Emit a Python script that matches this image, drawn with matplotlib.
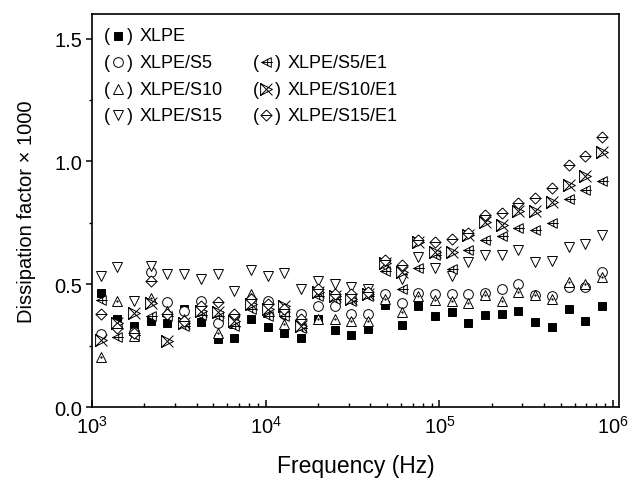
import numpy as np
import matplotlib
matplotlib.use("Agg")
import matplotlib.pyplot as plt
from matplotlib.path import Path
from matplotlib.ticker import MultipleLocator, FormatStrFormatter, LogLocator

plt.rcParams['font.family'] = ['Liberation Sans', 'DejaVu Sans']
plt.rcParams['mathtext.fontset'] = 'custom'
plt.rcParams['mathtext.rm'] = 'Liberation Sans'

# frequencies (Hz)
freq = [1120, 1400, 1750, 2180, 2720, 3400, 4240, 5290, 6600, 8240,
        10300, 12800, 16000, 20000, 24900, 31100, 38800, 48500, 60500, 75500,
        94200, 117500, 146700, 183000, 228400, 285000, 355700, 443900, 553900,
        691300, 862700]

xlpe = [0.466, 0.358, 0.33, 0.35, 0.34, 0.40, 0.347, 0.276, 0.28, 0.358,
        0.324, 0.30, 0.28, 0.358, 0.314, 0.294, 0.317, 0.415, 0.335, 0.41,
        0.37, 0.387, 0.344, 0.376, 0.38, 0.39, 0.345, 0.327, 0.40, 0.35, 0.41]
s5 = [0.297, 0.33, 0.305, 0.55, 0.426, 0.39, 0.43, 0.344, 0.37, 0.43,
      0.432, 0.38, 0.38, 0.41, 0.41, 0.38, 0.38, 0.46, 0.425, 0.465,
      0.46, 0.46, 0.46, 0.465, 0.48, 0.50, 0.455, 0.45, 0.49, 0.49, 0.55]
s10 = [0.205, 0.432, 0.29, 0.445, 0.39, 0.36, 0.40, 0.30, 0.34, 0.46,
       0.385, 0.337, 0.35, 0.36, 0.36, 0.35, 0.35, 0.44, 0.385, 0.45,
       0.435, 0.43, 0.425, 0.455, 0.43, 0.47, 0.455, 0.44, 0.51, 0.50, 0.53]
s15 = [0.534, 0.568, 0.43, 0.575, 0.541, 0.541, 0.523, 0.541, 0.473, 0.558,
       0.534, 0.545, 0.48, 0.513, 0.50, 0.49, 0.48, 0.575, 0.52, 0.61,
       0.565, 0.535, 0.59, 0.62, 0.62, 0.64, 0.59, 0.595, 0.65, 0.665, 0.70]
s5e1 = [0.435, 0.285, 0.295, 0.37, 0.37, 0.33, 0.375, 0.37, 0.33, 0.40,
        0.37, 0.37, 0.32, 0.45, 0.44, 0.43, 0.45, 0.555, 0.48, 0.565,
        0.62, 0.56, 0.64, 0.68, 0.695, 0.73, 0.72, 0.75, 0.845, 0.885, 0.92]
s10e1 = [0.273, 0.34, 0.382, 0.425, 0.27, 0.34, 0.39, 0.385, 0.35, 0.42,
         0.40, 0.41, 0.33, 0.47, 0.45, 0.44, 0.46, 0.585, 0.55, 0.67,
         0.63, 0.63, 0.70, 0.755, 0.74, 0.80, 0.80, 0.835, 0.905, 0.94, 1.04]
s15e1 = [0.378, 0.32, 0.30, 0.515, 0.38, 0.35, 0.41, 0.426, 0.38, 0.44,
         0.42, 0.40, 0.36, 0.48, 0.46, 0.46, 0.47, 0.60, 0.58, 0.68,
         0.67, 0.683, 0.71, 0.78, 0.79, 0.83, 0.85, 0.89, 0.985, 1.02, 1.10]

labels = ["XLPE", "XLPE/S5", "XLPE/S10", "XLPE/S15",
          "XLPE/S5/E1", "XLPE/S10/E1", "XLPE/S15/E1"]

# custom marker shapes
M, L = Path.MOVETO, Path.LINETO
tri_left_cross = Path(
    [(-1, 0), (1, 1), (1, -1), (-1, 0), (-1, 0), (1.3, 0), (0.25, -0.75), (0.25, 0.75)],
    [M, L, L, L, M, L, M, L])
tri_right_x = Path(
    [(-1, 1), (1, 0), (-1, -1), (-1, 1), (-1, 1), (1, -1), (-1, -1), (1, 1)],
    [M, L, L, L, M, L, M, L])
diamond_bar = Path(
    [(0, 1), (1, 0), (0, -1), (-1, 0), (0, 1), (-1, 0), (1, 0)],
    [M, L, L, L, L, M, L])

styles = [
    dict(marker='s', ms=6.0, mfc='black'),
    dict(marker='o', ms=7.0, mfc='white'),
    dict(marker='^', ms=7.5, mfc='white'),
    dict(marker='v', ms=7.5, mfc='white'),
    dict(marker=tri_left_cross, ms=9.0, mfc='white'),
    dict(marker=tri_right_x, ms=8.5, mfc='white'),
    dict(marker=diamond_bar, ms=8.0, mfc='white'),
]

fig = plt.figure(figsize=(6.35, 4.81), dpi=100)
ax = fig.add_axes([92 / 635, 1 - 408 / 481, 527 / 635, 393 / 481])

series = [xlpe, s5, s10, s15, s5e1, s10e1, s15e1]
for i, (vals, st) in enumerate(zip(series, styles)):
    ax.plot(freq, vals, linestyle='none', mec='black', mew=0.7, **st)
    if i == 2:
        # little centre dot of the up-triangles
        ax.plot(freq, vals, linestyle='none', marker='.', ms=1.2, color='black')

ax.set_xscale('log')
ax.set_xlim(1000, 1.08e6)
ax.set_ylim(0, 1.6)
ax.xaxis.set_major_locator(LogLocator(base=10, numticks=10))
ax.xaxis.set_minor_locator(LogLocator(base=10, subs=np.arange(2, 10), numticks=20))
ax.yaxis.set_major_locator(MultipleLocator(0.5))
ax.yaxis.set_minor_locator(MultipleLocator(0.25))
ax.yaxis.set_major_formatter(FormatStrFormatter('%.1f'))

ax.tick_params(axis='x', which='major', direction='in', length=5, width=1.1, labelsize=14.5, pad=6)
ax.tick_params(axis='x', which='minor', direction='in', length=3, width=1.0)
ax.tick_params(axis='y', which='major', direction='out', length=4, width=1.1, labelsize=14.5, pad=3)
ax.tick_params(axis='y', which='minor', direction='out', length=2.5, width=1.0)
for sp in ax.spines.values():
    sp.set_linewidth(1.2)

ax.set_xlabel("Frequency (Hz)", fontsize=16.5, labelpad=12)
ax.set_ylabel("Dissipation factor \u00d7 1000", fontsize=14.5, labelpad=13)

# hand-made legend
rows = [0.945, 0.877, 0.809, 0.742]
left_pos = [(0.028, 0.050, 0.072, 0.090, rows[0]),
            (0.028, 0.050, 0.072, 0.090, rows[1]),
            (0.028, 0.050, 0.072, 0.090, rows[2]),
            (0.028, 0.050, 0.072, 0.090, rows[3]),
            (0.311, 0.331, 0.353, 0.371, rows[1]),
            (0.311, 0.331, 0.353, 0.371, rows[2]),
            (0.311, 0.331, 0.353, 0.371, rows[3])]
for lab, st, (xo, xm, xc, xt, yy) in zip(labels, styles, left_pos):
    ax.text(xo, yy, "(", transform=ax.transAxes, fontsize=13, ha='center', va='center')
    ax.plot([xm], [yy], transform=ax.transAxes, clip_on=False, linestyle='none',
            mec='black', mew=0.7, **st)
    ax.text(xc, yy, ")", transform=ax.transAxes, fontsize=13, ha='center', va='center')
    ax.text(xt, yy, lab, transform=ax.transAxes, fontsize=13, ha='left', va='center')

fig.savefig("out.png", dpi=100)
